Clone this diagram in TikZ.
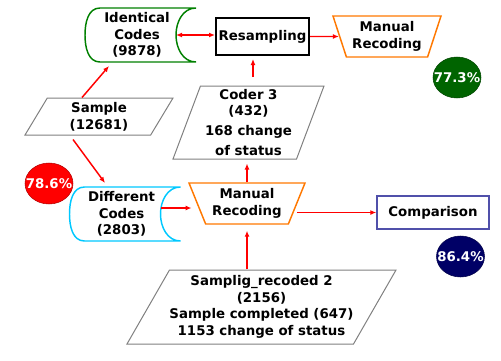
\documentclass[tikz,border=0pt]{standalone}
\usepackage{fontspec}
\setmainfont{DejaVu Sans}
\usetikzlibrary{arrows.meta,shapes.geometric,calc}
\definecolor{idgreen}{RGB}{0,128,0}
\definecolor{diffblue}{RGB}{0,200,255}
\definecolor{mrorange}{RGB}{255,120,0}
\definecolor{compblue}{RGB}{80,80,170}
\definecolor{pctgreen}{RGB}{0,100,0}
\definecolor{pctred}{RGB}{255,0,0}
\definecolor{pctnavy}{RGB}{0,0,102}
\tikzset{t/.style={font=\bfseries\fontsize{10}{12.5}\selectfont,align=center,inner sep=0pt},
para/.style 2 args={t,trapezium,trapezium left angle=#1,trapezium right angle=#2,trapezium stretches body,draw=gray,line width=0.75pt},
recode/.style={t,trapezium,trapezium angle=#1,shape border rotate=180,trapezium stretches body,draw=mrorange,line width=1.1pt,minimum height=30.75pt},
pct/.style={t,ellipse,draw=#1!70!black,fill=#1,text=white,inner xsep=-5pt,minimum width=36pt,minimum height=30.75pt},
arr/.style={->,>={Latex[length=4.5pt,width=3.75pt]},red,line width=1.1pt}}
\begin{document}
\begin{tikzpicture}[x=0.75pt,y=0.75pt]
\useasboundingbox(0,0)rectangle(501,-361);
\node[t](ident)at(137,-35){Identical\\Codes\\(9878)};
\node[t](diff)at(121.5,-214){Different\\Codes\\(2803)};
\foreach\n/\c in{ident/idgreen,diff/diffblue}\draw[\c,line width=1.1pt]($(\n)+(59,27)$)--($(\n)+(-37,27)$)to[out=180,in=90]($(\n)+(-52,0)$)to[out=270,in=180]($(\n)+(-37,-27)$)--($(\n)+(59,-27)$)to[out=180,in=270]($(\n)+(39,0)$)coordinate(\n-in)to[out=90,in=180]cycle;
\node[t,draw,line width=1.5pt,minimum width=69.75pt,minimum height=27.75pt](resamp)at(262.5,-36.5){Resampling};
\node[recode=65.7,minimum width=81pt](mrtop)at(387,-36.5){Manual\\Recoding};
\node[recode=60.7,minimum width=87pt](mrmid)at(247,-203.5){Manual\\Recoding};
\node[para={52}{128},minimum width=111pt,minimum height=27.75pt](sample)at(99,-116.5){Sample\\(12681)};
\node[para={67.7}{112.3},minimum width=113.25pt,minimum height=54.75pt](coder)at(248.5,-122.5){Coder 3\\(432)\\[2.5pt]168 change\\[2.5pt]of status};
\node[para={56}{124},minimum width=188.25pt,minimum height=55.5pt](samp2)at(261.5,-307){Samplig\_recoded 2\\(2156)\\Sample completed (647)\\1153 change of status};
\node[t,draw=compblue,line width=1.1pt,minimum width=84pt,minimum height=24.75pt](comp)at(433,-212.5){Comparison};
\node[pct=pctgreen](p773)at(457,-77.5){77.3\%};
\node[pct=pctred](p786)at(49,-183.5){78.6\%};
\node[pct=pctnavy](p864)at(460.5,-256.5){86.4\%};
\draw[arr]($(sample.north)+(-17,0)$)--($(ident)+(-28,-31)$);
\draw[arr]($(sample.south)+(-26,-4)$)--($(diff)+(-16.5,31)$);
\draw[arr,<->](ident-in)--(ident-in-|resamp.west);
\draw[arr](resamp)--(mrtop);
\draw[arr]($(coder)+(4.5,45.5)$)--($(coder|-resamp.south)+(4.5,-3)$);
\draw[arr,shorten >=3pt](mrmid.north)--(mrmid.north|-coder.south);
\coordinate(d1)at($(diff-in)+(0,6)$);
\draw[arr,shorten >=3.75pt](d1)--(d1-|mrmid.west);
\draw[arr](comp.west-|mrmid.east)--(comp.west);
\draw[arr,shorten >=4.5pt](mrmid.south|-samp2.north)--(mrmid.south);
\end{tikzpicture}
\end{document}
